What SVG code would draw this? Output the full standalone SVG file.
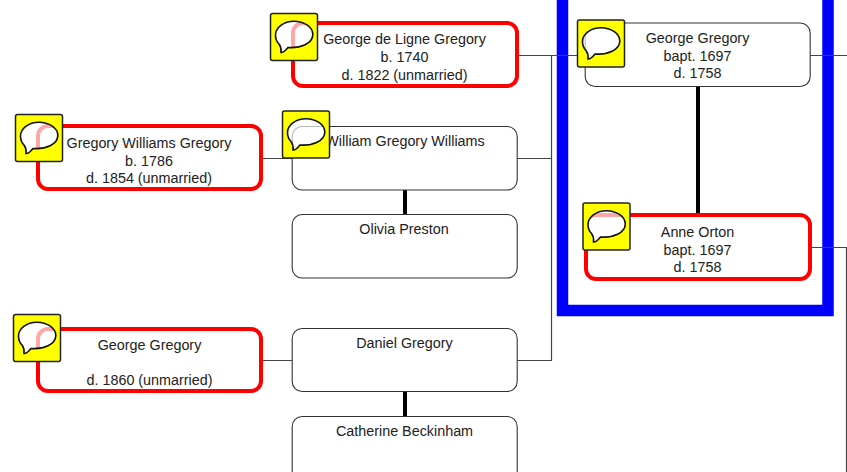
<svg xmlns="http://www.w3.org/2000/svg" width="847" height="472" viewBox="0 0 847 472">
<style>
.plain{fill:#fff;stroke:#333;stroke-width:1.1}
.red{fill:#fff;stroke:#f00;stroke-width:4}
.ln{fill:none;stroke:#444;stroke-width:1.2}
.thick{fill:none;stroke:#000;stroke-width:4}
text{font-family:"Liberation Sans",Arial,sans-serif;font-size:14.35px;fill:#222;text-anchor:middle}
</style>
<defs>
<g id="note">
<path fill="#ff0" fill-rule="evenodd" d="M2 0H45a2 2 0 0 1 2 2V45a2 2 0 0 1-2 2H2a2 2 0 0 1-2-2V2a2 2 0 0 1 2-2ZM17.5 34C30 35 42.3 30 42.3 21C42.3 13 33 7.700 23.500 7.700C13 7.700 5 14 5 21.500C5 25 6 28 8.500 30.500C10 32.500 11 35 10.500 39C13 39.500 15 37 17.500 34Z"/>
<path fill="#fff" fill-opacity=".65" stroke="#111" stroke-width="1.6" d="M17.5 34C30 35 42.3 30 42.3 21C42.3 13 33 7.700 23.500 7.700C13 7.700 5 14 5 21.500C5 25 6 28 8.500 30.500C10 32.500 11 35 10.500 39C13 39.500 15 37 17.500 34Z"/>
<rect width="47" height="47" rx="2" fill="none" stroke="#222" stroke-width="1.5"/>
</g>
</defs>
<rect width="847" height="472" fill="#fff"/>
<rect id="highlight" x="562.5" y="-50" width="265.5" height="360.5" fill="none" stroke="#00f" stroke-width="11.5"/>
<g id="connectors">
<path class="ln" d="M517 55.5H585M551.500 55.500V360.500H517M517 158.500H551.500M261 158.500H292M261 360.500H292M810 55.500H847M810 247.500H846.500V472"/>
<path class="thick" d="M698 86V215M405 190V215M405 391V417"/>
</g>
<g id="george-de-ligne-gregory"><rect class="red" x="293" y="23" width="224" height="63" rx="10"/><text x="404.500" y="43.700">George de Ligne Gregory</text><text x="404.500" y="61.700">b. 1740</text><text x="404.500" y="79.500">d. 1822 (unmarried)</text><use href="#note" x="270.500" y="13.500"/></g>
<g id="gregory-williams-gregory"><rect class="red" x="38" y="126" width="223" height="63" rx="10"/><text x="149" y="147.700">Gregory Williams Gregory</text><text x="149" y="165.500">b. 1786</text><text x="149" y="182.700">d. 1854 (unmarried)</text><use href="#note" x="15.500" y="114.500"/></g>
<g id="william-gregory-williams"><rect class="plain" x="292.200" y="126.500" width="225" height="63.500" rx="10"/><text x="405" y="145.700">William Gregory Williams</text><use href="#note" x="282.500" y="111"/></g>
<g id="olivia-preston"><rect class="plain" x="292.200" y="214.500" width="225" height="63.500" rx="10"/><text x="404" y="233.700">Olivia Preston</text></g>
<g id="george-gregory-lower"><rect class="red" x="38" y="329" width="223" height="62" rx="10"/><text x="149.500" y="349.700">George Gregory</text><text x="149.500" y="384.700">d. 1860 (unmarried)</text><use href="#note" x="13.500" y="314.500"/></g>
<g id="daniel-gregory"><rect class="plain" x="292.200" y="328.500" width="225" height="63" rx="10"/><text x="404.500" y="347.700">Daniel Gregory</text></g>
<g id="catherine-beckinham"><rect class="plain" x="292.200" y="416.500" width="225" height="70" rx="10"/><text x="404.500" y="435.700">Catherine Beckinham</text></g>
<g id="george-gregory-top"><rect class="plain" x="585.200" y="23" width="225" height="63.500" rx="10"/><text x="697.500" y="42.700">George Gregory</text><text x="697.500" y="60.700">bapt. 1697</text><text x="697.500" y="77.700">d. 1758</text><use href="#note" x="577.500" y="20"/></g>
<g id="anne-orton"><rect class="red" x="586" y="215" width="224" height="64" rx="10"/><text x="697.500" y="236.700">Anne Orton</text><text x="697.500" y="254.700">bapt. 1697</text><text x="697.500" y="271.700">d. 1758</text><use href="#note" x="583" y="203"/></g>
</svg>
